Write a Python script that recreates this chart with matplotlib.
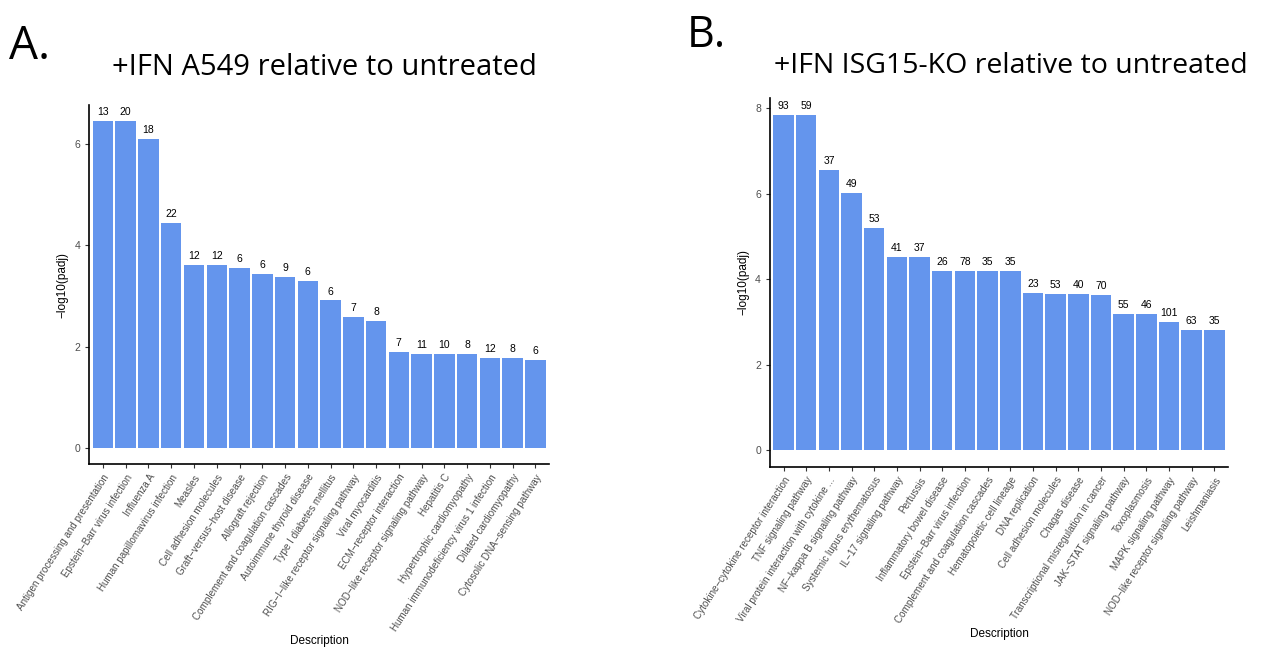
import matplotlib.pyplot as plt
import numpy as np

# panel A: +IFN A549 vs untreated
a_terms = ["Antigen processing and presentation", "Epstein\u2212Barr virus infection", "Influenza A",
           "Human papillomavirus infection", "Measles", "Cell adhesion molecules",
           "Graft\u2212versus\u2212host disease", "Allograft rejection",
           "Complement and coagulation cascades", "Autoimmune thyroid disease",
           "Type I diabetes mellitus", "RIG\u2212I\u2212like receptor signaling pathway",
           "Viral myocarditis", "ECM\u2212receptor interaction",
           "NOD\u2212like receptor signaling pathway", "Hepatitis C",
           "Hypertrophic cardiomyopathy", "Human immunodeficiency virus 1 infection",
           "Dilated cardiomyopathy", "Cytosolic DNA\u2212sensing pathway"]
a_padj = [6.45, 6.45, 6.10, 4.44, 3.62, 3.62, 3.56, 3.44, 3.38, 3.30,
          2.91, 2.59, 2.51, 1.90, 1.86, 1.86, 1.86, 1.77, 1.77, 1.73]
a_count = [13, 20, 18, 22, 12, 12, 6, 6, 9, 6, 6, 7, 8, 7, 11, 10, 8, 12, 8, 6]

# panel B: +IFN ISG15-KO vs untreated
b_terms = ["Cytokine\u2212cytokine receptor interaction", "TNF signaling pathway",
           "Viral protein interaction with cytokine ...", "NF\u2212kappa B signaling pathway",
           "Systemic lupus erythematosus", "IL\u221217 signaling pathway", "Pertussis",
           "Inflammatory bowel disease", "Epstein\u2212Barr virus infection",
           "Complement and coagulation cascades", "Hematopoietic cell lineage",
           "DNA replication", "Cell adhesion molecules", "Chagas disease",
           "Transcriptional misregulation in cancer", "JAK\u2212STAT signaling pathway",
           "Toxoplasmosis", "MAPK signaling pathway", "NOD\u2212like receptor signaling pathway",
           "Leishmaniasis"]
b_padj = [7.85, 7.85, 6.56, 6.02, 5.20, 4.52, 4.52, 4.19, 4.19, 4.19,
          4.19, 3.68, 3.65, 3.65, 3.63, 3.19, 3.19, 3.00, 2.81, 2.81]
b_count = [93, 59, 37, 49, 53, 41, 37, 26, 78, 35, 35, 23, 53, 40, 70, 55, 46, 101, 63, 35]

BAR = "#6495ED"
plt.rcParams['font.family'] = ['Liberation Sans', 'DejaVu Sans']


def draw_panel(ax, terms, vals, counts):
    x = np.arange(len(terms))
    ax.bar(x, vals, width=0.9, color=BAR)
    for xi, v, c in zip(x, vals, counts):
        ax.text(xi, v + max(vals) * 0.012, str(c), ha='center', va='bottom', fontsize=7.5)
    ax.set_xlim(-0.6, len(terms) - 0.4)
    ax.set_ylim(-max(vals) * 0.05, max(vals) * 1.05)
    ax.set_xticks(x)
    ax.set_xticklabels(terms, rotation=57, ha='right', va='top', rotation_mode='anchor',
                       fontsize=7.1, color='#4D4D4D')
    ax.tick_params(axis='x', length=3, width=0.8, color='#333333', pad=3)
    ax.tick_params(axis='y', length=3, width=0.8, color='#333333', labelsize=7.5,
                   labelcolor='#4D4D4D')
    for s in ['top', 'right']:
        ax.spines[s].set_visible(False)
    for s in ['left', 'bottom']:
        ax.spines[s].set_linewidth(1.2)
    ax.set_xlabel("Description", fontsize=8.5, labelpad=2)
    ax.set_ylabel("\u2212log10(padj)", fontsize=8.5)


fig = plt.figure(figsize=(12.67, 6.47), dpi=100)
ax1 = fig.add_axes([0.0705, 0.2828, 0.3628, 0.5549])
ax2 = fig.add_axes([0.6077, 0.2787, 0.3615, 0.5698])

draw_panel(ax1, a_terms, a_padj, a_count)
ax1.set_yticks([0, 2, 4, 6])
draw_panel(ax2, b_terms, b_padj, b_count)
ax2.set_yticks([0, 2, 4, 6, 8])

fig.text(0.256, 0.896, "+IFN A549 relative to untreated", ha='center', va='center',
         fontsize=21, family='Open Sans')
fig.text(0.798, 0.898, "+IFN ISG15-KO relative to untreated", ha='center', va='center',
         fontsize=20.5, family='Open Sans')
fig.text(0.007, 0.928, "A.", ha='left', va='center', fontsize=33, family='Open Sans')
fig.text(0.542, 0.945, "B.", ha='left', va='center', fontsize=31, family='Open Sans')

fig.savefig("out.png", dpi=100)
